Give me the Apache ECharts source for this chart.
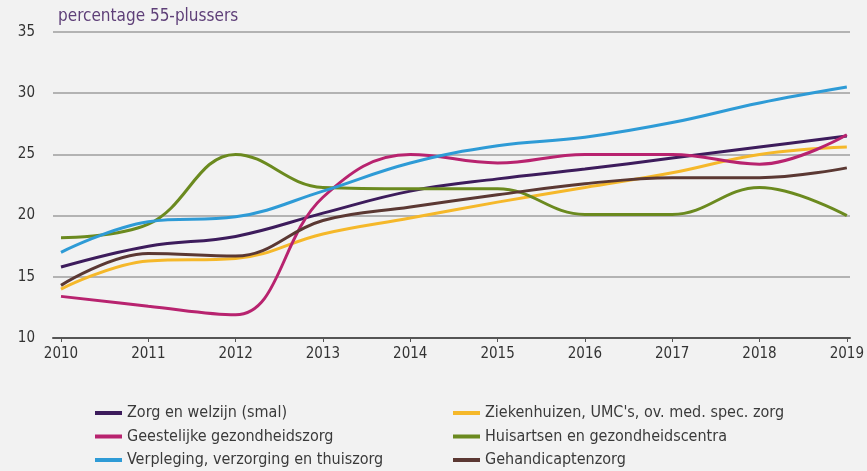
<!DOCTYPE html>
<html>
<head>
<meta charset="utf-8">
<script src="https://cdn.jsdelivr.net/npm/echarts@6/dist/echarts.min.js"></script>
<style>
html,body{margin:0;padding:0;background:#f2f2f2;}
#c{width:867px;height:471px;}
</style>
</head>
<body>
<div id="c"></div>
<script>
const years = ['2010','2011','2012','2013','2014','2015','2016','2017','2018','2019'];
const yTicks = [10, 15, 20, 25, 30, 35];
const zorgWelzijn   = [15.8, 17.5, 18.3, 20.2, 22.0, 23.0, 23.8, 24.7, 25.6, 26.5];
const ziekenhuizen  = [14.0, 16.3, 16.5, 18.5, 19.8, 21.1, 22.3, 23.5, 25.0, 25.6];
const geestelijke   = [13.4, 12.6, 11.9, 21.5, 25.0, 24.3, 25.0, 25.0, 24.2, 26.6];
const huisartsen    = [18.2, 19.3, 25.0, 22.3, 22.2, 22.2, 20.1, 20.1, 22.3, 20.0];
const verpleging    = [17.0, 19.5, 19.9, 22.0, 24.3, 25.7, 26.4, 27.6, 29.2, 30.5];
const gehandicapten = [14.3, 16.9, 16.7, 19.6, 20.7, 21.7, 22.6, 23.1, 23.1, 23.9];

const names = {
  zw: 'Zorg en welzijn (smal)',
  zh: "Ziekenhuizen, UMC's, ov. med. spec. zorg",
  gg: 'Geestelijke gezondheidszorg',
  ha: 'Huisartsen en gezondheidscentra',
  vv: 'Verpleging, verzorging en thuiszorg',
  gh: 'Gehandicaptenzorg'
};

const font = '"DejaVu Sans Condensed", "DejaVu Sans"';
const chart = echarts.init(document.getElementById('c'));

function line(name, data, color) {
  return {
    name: name, type: 'line', data: data, smooth: 0.4,
    xAxisIndex: 1, yAxisIndex: 1,
    symbol: 'none', lineStyle: { width: 3, color: color }, itemStyle: { color: color }
  };
}

const legendCommon = {
  orient: 'vertical', top: 405, height: 66, padding: 0, icon: 'rect',
  itemWidth: 27, itemHeight: 4, itemGap: 7.5,
  textStyle: { fontFamily: font, fontSize: 16, color: '#3a3a3a' }
};

chart.setOption({
  backgroundColor: '#f2f2f2',
  animation: false,
  title: {
    text: 'percentage 55-plussers', left: 53, top: 3,
    textStyle: { fontFamily: font, fontSize: 17, fontWeight: 'normal', color: '#5e3f78' }
  },
  legend: [
    Object.assign({ left: 95, data: [names.zw, names.gg, names.vv] }, legendCommon),
    Object.assign({ left: 453, data: [names.zh, names.ha, names.gh] }, legendCommon)
  ],
  grid: [
    { left: 53, right: 17, top: 32, bottom: 133 },
    { left: 61, right: 20, top: 32, bottom: 133 }
  ],
  xAxis: [
    { type: 'value', gridIndex: 0, min: 0, max: 1, show: true,
      axisLine: { show: true, lineStyle: { color: '#555', width: 2 } },
      axisTick: { show: false }, axisLabel: { show: false }, splitLine: { show: false } },
    { type: 'category', gridIndex: 1, data: years, boundaryGap: false,
      axisLine: { show: false },
      axisTick: { show: true, length: 4, lineStyle: { color: '#555', width: 1 } },
      axisLabel: { margin: 9, fontFamily: font, fontSize: 15, color: '#333' },
      splitLine: { show: false } }
  ],
  yAxis: [
    { type: 'value', gridIndex: 0, min: yTicks[0], max: yTicks[yTicks.length - 1], interval: 5,
      axisLine: { show: false }, axisTick: { show: false },
      axisLabel: { margin: 18, fontFamily: font, fontSize: 15, color: '#333' },
      splitLine: { show: true, lineStyle: { color: '#b3b3b3', width: 2 } } },
    { type: 'value', gridIndex: 1, min: yTicks[0], max: yTicks[yTicks.length - 1], interval: 5,
      show: false, splitLine: { show: false } }
  ],
  series: [
    line(names.zw, zorgWelzijn, '#3d1c5c'),
    line(names.zh, ziekenhuizen, '#f5b82a'),
    line(names.gg, geestelijke, '#b8236f'),
    line(names.ha, huisartsen, '#6b8a1f'),
    line(names.vv, verpleging, '#2e9bd6'),
    line(names.gh, gehandicapten, '#5b3833')
  ]
});
</script>
</body>
</html>
